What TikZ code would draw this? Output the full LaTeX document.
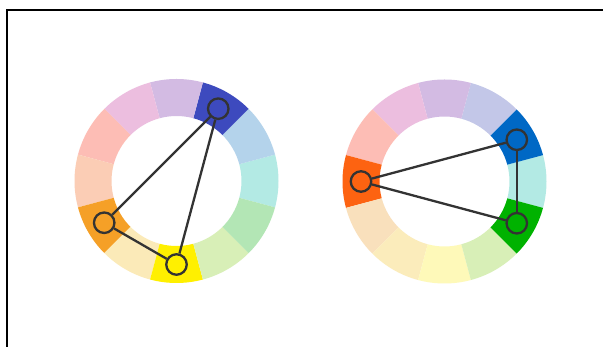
\documentclass[tikz,border=0pt]{standalone}
\usetikzlibrary{calc}
\definecolor{cA}{HTML}{B3EAE4}
\definecolor{cB}{HTML}{B4D3EB}
\definecolor{cC}{HTML}{3D4ABE}
\definecolor{cD}{HTML}{D3BBE3}
\definecolor{cE}{HTML}{ECBEDF}
\definecolor{cF}{HTML}{FDBDB5}
\definecolor{cG}{HTML}{FBCDB5}
\definecolor{cH}{HTML}{F5A027}
\definecolor{cI}{HTML}{FBEAB8}
\definecolor{cJ}{HTML}{FFF000}
\definecolor{cK}{HTML}{D8EFB7}
\definecolor{cL}{HTML}{B3E6B5}
\definecolor{dB}{HTML}{0068C5}
\definecolor{dC}{HTML}{C3C7E8}
\definecolor{dG}{HTML}{FD6311}
\definecolor{dH}{HTML}{F9E0BC}
\definecolor{dI}{HTML}{FBECBB}
\definecolor{dJ}{HTML}{FEF9B9}
\definecolor{dL}{HTML}{00B200}
\definecolor{ink}{HTML}{333333}
\tikzset{
  marker/.style={circle, draw=ink, line width=2.3pt, minimum size=20.5pt, inner sep=0pt},
  conn/.style={draw=ink, line width=2.3pt},
  frame/.style={draw=black, line width=2pt}
}
\newcommand{\wheelring}[2]{%
  \begin{scope}[shift={#1}]
  \foreach \a/\c in {#2}{
    \fill[\c] (\a-15:102) arc[start angle=\a-15, end angle=\a+15, radius=102]
      -- (\a+15:65) arc[start angle=\a+15, end angle=\a-15, radius=65] -- cycle;
  }
  \end{scope}}
\begin{document}
\begin{tikzpicture}[x=1pt,y=1pt]
\useasboundingbox (0,0) rectangle (603,347);
\fill[white] (0,0) rectangle (603,347);
\coordinate (fbl) at (7,0);
\coordinate (ftl) at (7,337);
\coordinate (ftr) at (603,337);
\draw[frame] (fbl) -- (ftl) -- (ftr);
\coordinate (cl) at (176.5,166);
\coordinate (cr) at (444.5,165.5);
\wheelring{(cl)}{0/cA,30/cB,60/cC,90/cD,120/cE,150/cF,180/cG,210/cH,240/cI,270/cJ,300/cK,330/cL}
\wheelring{(cr)}{0/cA,30/dB,60/dC,90/cD,120/cE,150/cF,180/dG,210/dH,240/dI,270/dJ,300/cK,330/dL}
\node[marker, fill=cC] (l1) at ($(cl)+(60:83.5)$) {};
\node[marker, fill=cH] (l2) at ($(cl)+(210:83.5)$) {};
\node[marker, fill=cJ] (l3) at ($(cl)+(270:83.5)$) {};
\node[marker, fill=dB] (r1) at ($(cr)+(30:83.5)$) {};
\node[marker, fill=dG] (r2) at ($(cr)+(180:83.5)$) {};
\node[marker, fill=dL] (r3) at ($(cr)+(330:83.5)$) {};
\draw[conn] (l1) -- (l2);
\draw[conn] (l2) -- (l3);
\draw[conn] (l3) -- (l1);
\draw[conn] (r1) -- (r2);
\draw[conn] (r2) -- (r3);
\draw[conn] (r3) -- (r1);
\end{tikzpicture}
\end{document}
